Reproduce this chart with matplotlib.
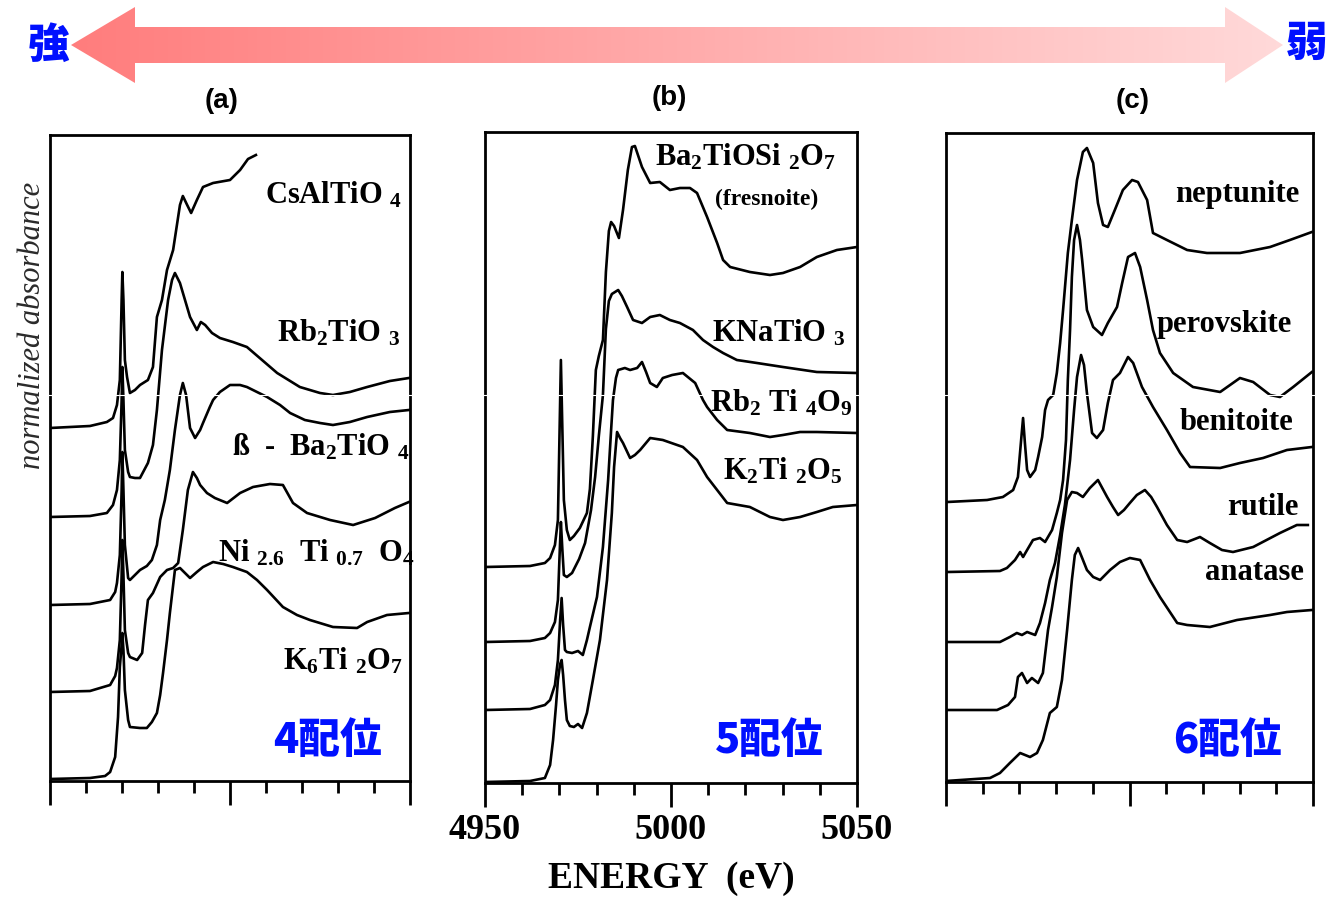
import numpy as np
import matplotlib.pyplot as plt
from matplotlib.patches import Polygon
from matplotlib.colors import LinearSegmentedColormap

plt.rcParams['font.family'] = 'Liberation Serif'
plt.rcParams['font.weight'] = 'bold'
plt.rcParams['mathtext.fontset'] = 'custom'
plt.rcParams['mathtext.rm'] = 'Liberation Serif:bold'
plt.rcParams['mathtext.it'] = 'Liberation Serif:bold'
plt.rcParams['mathtext.bf'] = 'Liberation Serif:bold'

# Ti K-edge XANES; energy in eV, normalized absorbance with vertical offsets

# (a) four-coordinated Ti
e_csaltio4 = [4950.0, 4961.1, 4965.8, 4967.5, 4968.6, 4969.4, 4969.9, 4970.1, 4970.4, 4970.8, 4971.4,
              4972.2, 4973.6, 4975.0, 4977.2, 4978.6, 4979.7, 4981.1, 4982.5, 4984.2, 4986.1, 4986.9,
              4988.1, 4989.2, 4990.8, 4992.5, 4995.3, 5000.0, 5002.8, 5005.0, 5007.2]
a_csaltio4 = [3.53, 3.55, 3.59, 3.63, 3.76, 4.01, 4.81, 5.09, 4.81, 4.21, 4.04,
              3.88, 3.91, 3.96, 4.01, 4.14, 4.64, 4.81, 5.11, 5.31, 5.76, 5.85,
              5.76, 5.68, 5.81, 5.94, 5.98, 6.01, 6.11, 6.22, 6.26]

e_rb2tio3 = [4950.0, 4961.1, 4965.8, 4967.5, 4968.6, 4969.4, 4969.9, 4970.1, 4970.4, 4970.8, 4971.7,
             4972.2, 4973.6, 4975.0, 4977.2, 4978.6, 4979.7, 4981.1, 4982.8, 4983.9, 4984.7, 4986.1,
             4987.5, 4988.9, 4990.8, 4991.9, 4993.1, 4995.0, 4997.2, 5000.8, 5004.7, 5008.9, 5013.1,
             5019.4, 5025.0, 5028.6, 5033.3, 5038.1, 5044.4, 5049.7]
a_rb2tio3 = [2.64, 2.65, 2.68, 2.76, 2.91, 3.21, 3.81, 4.14, 3.81, 3.31, 3.09,
             3.04, 3.03, 3.03, 3.18, 3.36, 3.71, 4.31, 4.81, 5.01, 5.08, 4.98,
             4.81, 4.64, 4.51, 4.59, 4.56, 4.48, 4.43, 4.39, 4.34, 4.21, 4.08,
             3.94, 3.88, 3.86, 3.89, 3.94, 4.00, 4.03]

e_ba2tio4 = [4950.0, 4961.1, 4966.7, 4968.1, 4968.6, 4969.4, 4969.9, 4970.1, 4970.4, 4970.8, 4971.7,
             4972.2, 4973.6, 4975.0, 4976.9, 4978.3, 4979.7, 4980.6, 4981.9, 4983.3, 4984.7, 4986.1,
             4986.9, 4987.8, 4988.9, 4990.3, 4991.7, 4992.5, 4994.4, 4995.3, 4997.2, 5000.0, 5002.8,
             5004.7, 5007.5, 5010.3, 5013.9, 5016.7, 5020.8, 5025.0, 5028.6, 5033.3, 5038.1, 5044.4, 5049.7]
a_ba2tio4 = [1.76, 1.77, 1.81, 1.89, 1.98, 2.26, 2.91, 3.29, 2.91, 2.36, 2.03,
             2.01, 2.06, 2.11, 2.15, 2.21, 2.36, 2.61, 2.81, 3.11, 3.51, 3.86,
             3.98, 3.86, 3.53, 3.43, 3.51, 3.58, 3.74, 3.81, 3.89, 3.96, 3.96,
             3.94, 3.89, 3.84, 3.76, 3.68, 3.61, 3.58, 3.56, 3.59, 3.64, 3.69, 3.71]

e_ni26ti07o4 = [4950.0, 4961.1, 4966.7, 4968.1, 4968.6, 4969.4, 4969.9, 4970.1, 4970.4, 4970.8, 4971.7,
                4972.2, 4974.2, 4975.6, 4976.4, 4977.2, 4978.6, 4980.6, 4982.5, 4984.2, 4985.6, 4986.9,
                4988.3, 4989.7, 4990.8, 4991.7, 4993.6, 4995.8, 4999.2, 5002.8, 5006.4, 5011.1, 5014.7,
                5017.5, 5021.4, 5027.8, 5034.2, 5040.3, 5045.8, 5049.7]
a_ni26ti07o4 = [0.89, 0.90, 0.96, 1.05, 1.13, 1.41, 2.06, 2.41, 2.06, 1.51, 1.28,
                1.24, 1.21, 1.28, 1.56, 1.81, 1.88, 2.04, 2.11, 2.13, 2.18, 2.51,
                2.91, 3.09, 3.03, 2.96, 2.88, 2.83, 2.78, 2.88, 2.94, 2.97, 2.96,
                2.78, 2.68, 2.61, 2.56, 2.63, 2.73, 2.79]

e_k6ti2o7 = [4950.0, 4961.1, 4965.3, 4966.7, 4968.1, 4968.9, 4969.4, 4969.9, 4970.1, 4970.4, 4970.8,
             4971.7, 4972.2, 4975.0, 4976.9, 4978.3, 4979.7, 4980.6, 4981.4, 4982.5, 4983.3, 4984.7,
             4986.1, 4987.5, 4988.9, 4990.8, 4992.5, 4995.3, 4998.1, 5000.8, 5004.7, 5007.5, 5010.3,
             5014.7, 5018.6, 5022.2, 5028.6, 5035.3, 5038.1, 5043.6, 5049.7]
a_k6ti2o7 = [0.02, 0.03, 0.05, 0.09, 0.24, 0.64, 1.14, 1.36, 1.48, 1.31, 0.91,
             0.61, 0.54, 0.53, 0.53, 0.59, 0.68, 0.86, 1.08, 1.41, 1.68, 2.11,
             2.13, 2.08, 2.03, 2.09, 2.14, 2.19, 2.17, 2.14, 2.09, 2.01, 1.91,
             1.74, 1.66, 1.61, 1.54, 1.53, 1.59, 1.66, 1.68]

# (b) five-coordinated Ti
e_fresnoite = [4950.0, 4962.1, 4966.1, 4967.5, 4968.8, 4969.6, 4970.0, 4970.4, 4970.8, 4971.2, 4972.0,
               4972.8, 4973.9, 4975.5, 4977.4, 4978.2, 4979.0, 4979.8, 4980.6, 4981.7, 4982.5, 4983.3,
               4983.9, 4984.7, 4986.0, 4987.1, 4988.4, 4989.5, 4990.3, 4992.2, 4994.4, 4997.0, 4999.7,
               5002.4, 5005.1, 5007.0, 5009.7, 5012.4, 5014.0, 5015.9, 5021.2, 5026.6, 5030.1, 5034.7,
               5039.2, 5044.6, 5050.0]
a_fresnoite = [2.16, 2.17, 2.20, 2.25, 2.38, 2.63, 3.43, 4.23, 3.53, 2.83, 2.53,
               2.43, 2.47, 2.55, 2.70, 2.94, 3.47, 4.13, 4.27, 4.43, 5.11, 5.52,
               5.61, 5.57, 5.45, 5.73, 6.13, 6.36, 6.37, 6.16, 6.00, 6.01, 5.93,
               5.95, 5.95, 5.90, 5.66, 5.40, 5.23, 5.16, 5.11, 5.08, 5.10, 5.16,
               5.26, 5.33, 5.36]

e_knatio3 = [4950.0, 4962.1, 4966.1, 4967.5, 4968.8, 4969.6, 4970.0, 4970.4, 4970.8, 4971.2, 4972.0,
             4973.4, 4975.3, 4976.9, 4978.5, 4979.6, 4980.6, 4981.7, 4982.5, 4983.3, 4984.1, 4985.8,
             4986.8, 4988.2, 4989.8, 4992.2, 4994.4, 4997.0, 4999.7, 5002.4, 5005.9, 5008.6, 5011.3,
             5014.0, 5017.7, 5023.1, 5030.1, 5039.2, 5050.0]
a_knatio3 = [1.41, 1.42, 1.45, 1.50, 1.61, 1.83, 2.23, 2.61, 2.33, 2.08, 2.06,
             2.10, 2.24, 2.40, 2.73, 3.06, 3.47, 3.88, 4.54, 4.82, 4.89, 4.93,
             4.87, 4.76, 4.63, 4.60, 4.66, 4.68, 4.63, 4.60, 4.53, 4.43, 4.36,
             4.30, 4.23, 4.20, 4.16, 4.11, 4.10]

e_rb2ti4o9 = [4950.0, 4962.1, 4966.1, 4967.5, 4968.8, 4969.6, 4970.2, 4970.6, 4971.0, 4971.5, 4972.0,
              4973.4, 4975.0, 4976.3, 4977.4, 4978.2, 4980.1, 4981.7, 4983.1, 4983.9, 4984.4, 4985.2,
              4985.8, 4987.6, 4989.0, 4990.9, 4992.2, 4993.3, 4994.4, 4996.2, 4997.8, 5000.3, 5003.2,
              5006.5, 5008.6, 5009.7, 5012.4, 5015.1, 5021.2, 5026.6, 5030.1, 5034.7, 5039.2, 5050.0]
a_rb2ti4o9 = [0.73, 0.74, 0.78, 0.83, 0.98, 1.23, 1.63, 1.85, 1.58, 1.33, 1.31,
              1.30, 1.32, 1.28, 1.43, 1.56, 1.86, 2.36, 3.03, 3.53, 3.83, 4.05,
              4.13, 4.15, 4.13, 4.15, 4.21, 4.11, 4.00, 3.96, 4.05, 4.08, 4.10,
              4.00, 3.83, 3.76, 3.63, 3.53, 3.50, 3.46, 3.48, 3.51, 3.51, 3.50]

e_k2ti2o5 = [4950.0, 4962.1, 4966.1, 4967.5, 4968.3, 4969.1, 4969.6, 4970.2, 4970.6, 4971.0, 4971.5,
             4972.0, 4972.8, 4973.9, 4975.0, 4976.1, 4977.4, 4979.0, 4980.9, 4982.8, 4984.1, 4984.7,
             4985.5, 4986.3, 4987.1, 4989.0, 4990.3, 4991.7, 4994.4, 4997.8, 5003.2, 5007.0, 5009.7,
             5012.4, 5015.1, 5021.2, 5026.6, 5030.1, 5034.7, 5039.2, 5043.5, 5050.0]
a_k2ti2o5 = [0.01, 0.02, 0.05, 0.18, 0.43, 0.78, 1.03, 1.19, 1.23, 1.08, 0.83,
             0.63, 0.57, 0.56, 0.59, 0.55, 0.70, 1.03, 1.43, 2.03, 2.70, 3.16,
             3.51, 3.45, 3.40, 3.25, 3.28, 3.33, 3.45, 3.43, 3.36, 3.23, 3.06,
             2.93, 2.80, 2.76, 2.66, 2.63, 2.66, 2.71, 2.76, 2.78]

# (c) six-coordinated Ti
e_neptunite = [4950.3, 4961.2, 4965.5, 4968.3, 4969.6, 4970.4, 4971.0, 4971.5, 4972.1, 4972.9, 4974.3,
               4975.1, 4976.2, 4977.0, 4977.8, 4979.2, 4980.2, 4981.1, 4981.9, 4983.2, 4984.3, 4985.7,
               4987.3, 4988.4, 4990.1, 4991.4, 4992.8, 4994.1, 4996.0, 4998.2, 5000.7, 5002.3, 5004.8,
               5006.4, 5010.2, 5015.7, 5021.1, 5030.1, 5038.3, 5043.7, 5049.7]
a_neptunite = [2.80, 2.82, 2.85, 2.92, 3.05, 3.39, 3.64, 3.39, 3.12, 3.05, 3.12,
               3.25, 3.45, 3.72, 3.82, 3.87, 4.09, 4.39, 4.72, 5.29, 5.62, 6.02,
               6.30, 6.34, 6.19, 5.79, 5.57, 5.55, 5.72, 5.92, 6.02, 6.00, 5.82,
               5.49, 5.42, 5.32, 5.29, 5.29, 5.35, 5.42, 5.50]

e_perovskite = [4950.3, 4964.7, 4966.6, 4968.8, 4970.2, 4971.0, 4972.1, 4973.7, 4975.6, 4977.0, 4978.9,
                4980.2, 4981.1, 4981.9, 4982.7, 4983.2, 4983.8, 4984.3, 4984.9, 4985.7, 4986.5, 4987.1,
                4988.4, 4990.1, 4992.5, 4994.1, 4996.6, 4998.0, 4999.6, 5001.5, 5002.9, 5004.8, 5006.4,
                5008.3, 5011.9, 5017.3, 5024.7, 5030.1, 5033.7, 5038.3, 5041.0, 5044.6, 5049.7]
a_perovskite = [2.10, 2.11, 2.14, 2.22, 2.30, 2.25, 2.32, 2.42, 2.44, 2.40, 2.52,
                2.69, 2.82, 3.02, 3.42, 4.02, 4.52, 5.05, 5.42, 5.57, 5.42, 5.22,
                4.72, 4.55, 4.47, 4.59, 4.75, 4.99, 5.25, 5.29, 5.15, 4.82, 4.52,
                4.29, 4.09, 3.95, 3.90, 4.04, 4.00, 3.87, 3.85, 3.95, 4.10]

e_benitoite = [4950.3, 4964.7, 4967.4, 4969.3, 4970.7, 4972.1, 4974.3, 4975.6, 4977.0, 4978.3, 4979.7,
               4981.1, 4982.4, 4983.8, 4984.9, 4985.7, 4986.8, 4987.6, 4988.4, 4989.8, 4991.1, 4992.8,
               4994.1, 4995.5, 4997.4, 4999.6, 5001.0, 5003.4, 5006.4, 5010.2, 5013.8, 5016.5, 5024.7,
               5030.1, 5036.4, 5042.9, 5049.7]
a_benitoite = [1.40, 1.40, 1.45, 1.49, 1.47, 1.50, 1.47, 1.59, 1.79, 2.02, 2.19,
               2.47, 2.77, 3.22, 3.72, 4.05, 4.27, 4.17, 3.89, 3.49, 3.44, 3.52,
               3.79, 4.02, 4.09, 4.25, 4.19, 3.95, 3.75, 3.52, 3.29, 3.15, 3.14,
               3.19, 3.24, 3.32, 3.35]

e_rutile = [4950.3, 4963.9, 4966.9, 4968.8, 4969.6, 4970.7, 4972.1, 4973.4, 4975.1, 4976.4, 4977.8,
            4978.9, 4980.2, 4981.6, 4983.0, 4984.3, 4985.7, 4987.3, 4989.2, 4991.4, 4993.9, 4995.5,
            4996.9, 4998.5, 5000.1, 5002.0, 5004.2, 5005.9, 5007.5, 5010.2, 5013.0, 5015.7, 5019.2,
            5021.9, 5025.2, 5028.2, 5033.7, 5041.0, 5045.6, 5048.6]
a_rutile = [0.72, 0.72, 0.77, 0.85, 1.05, 1.09, 0.99, 1.04, 0.99, 1.09, 1.52,
            1.75, 2.05, 2.49, 2.82, 2.90, 2.89, 2.85, 2.94, 3.02, 2.85, 2.75,
            2.67, 2.72, 2.79, 2.87, 2.92, 2.85, 2.75, 2.57, 2.42, 2.40, 2.45,
            2.39, 2.32, 2.30, 2.35, 2.49, 2.57, 2.57]

e_anatase = [4950.0, 4962.0, 4964.7, 4967.4, 4970.2, 4972.9, 4974.8, 4976.4, 4978.3, 4980.2, 4981.6,
             4983.0, 4984.3, 4985.1, 4986.0, 4987.1, 4988.4, 4990.1, 4992.0, 4994.7, 4997.4, 5000.1,
             5002.9, 5005.6, 5008.3, 5013.0, 5015.7, 5021.9, 5029.3, 5038.3, 5042.9, 5049.7]
a_anatase = [0.01, 0.04, 0.09, 0.19, 0.29, 0.25, 0.29, 0.42, 0.69, 0.75, 1.02,
             1.52, 2.02, 2.27, 2.34, 2.24, 2.12, 2.05, 2.02, 2.12, 2.20, 2.24,
             2.22, 2.02, 1.85, 1.59, 1.57, 1.55, 1.62, 1.67, 1.70, 1.72]

W, H = 1332, 897
fig = plt.figure(figsize=(W / 100, H / 100), dpi=100)


def panel(left, right, top, bottom, spectra, labels=False):
    ax = fig.add_axes([left / W, 1 - bottom / H, (right - left) / W, (bottom - top) / H])
    for e, a in spectra:
        ax.plot(e, a, color='black', lw=1.9, solid_joinstyle='round')
    ax.set_xlim(4950, 5050)
    ax.set_ylim(0, (bottom - top) / 100)
    ax.set_yticks([])
    ax.set_xticks([4950, 5000, 5050])
    ax.set_xticks(np.arange(4950, 5051, 10), minor=True)
    ax.tick_params(axis='x', which='major', direction='out', length=17, width=2.0,
                   labelsize=26, pad=5)
    ax.tick_params(axis='x', which='minor', direction='out', length=8.5, width=2.0)
    if not labels:
        ax.set_xticklabels([])
    for sp in ax.spines.values():
        sp.set_linewidth(2.0)
    return ax


panel(50, 410, 135, 781, [(e_csaltio4, a_csaltio4), (e_rb2tio3, a_rb2tio3), (e_ba2tio4, a_ba2tio4),
                          (e_ni26ti07o4, a_ni26ti07o4), (e_k6ti2o7, a_k6ti2o7)])
panel(485, 857, 132, 783, [(e_fresnoite, a_fresnoite), (e_knatio3, a_knatio3),
                           (e_rb2ti4o9, a_rb2ti4o9), (e_k2ti2o5, a_k2ti2o5)], labels=True)
panel(946, 1313, 133, 782, [(e_neptunite, a_neptunite), (e_perovskite, a_perovskite),
                            (e_benitoite, a_benitoite), (e_rutile, a_rutile), (e_anatase, a_anatase)])

# overlay in pixel units for the arrow and annotations
ov = fig.add_axes([0, 0, 1, 1], zorder=10)
ov.patch.set_alpha(0)
ov.axis('off')

grad = np.linspace(0, 1, 256).reshape(1, -1)
cmap = LinearSegmentedColormap.from_list('pink', ['#ff7d7d', '#ffd9d9'])
im = ov.imshow(grad, cmap=cmap, extent=(71, 1283, 83, 7), aspect='auto', interpolation='bilinear')
arrow = Polygon([(71, 45), (135, 7), (135, 27), (1225, 27), (1225, 7), (1283, 45),
                 (1225, 83), (1225, 63), (135, 63), (135, 83)],
                closed=True, facecolor='none', edgecolor='none')
ov.add_patch(arrow)
im.set_clip_path(arrow)
ov.set_xlim(0, W)
ov.set_ylim(H, 0)

cjk = ['Noto Sans CJK JP', 'DejaVu Sans']
ov.text(48, 46, '強', color='#0010ff', fontsize=30, fontweight='black', family=cjk,
        ha='center', va='center')
ov.text(1307, 44, '弱', color='#0010ff', fontsize=30, fontweight='black', family=cjk,
        ha='center', va='center')

for x, y, s in [(222, 101, '(a)'), (669, 98, '(b)'), (1133, 101, '(c)')]:
    ov.text(x, y, s, fontsize=20, fontweight='bold', family='Liberation Sans',
            ha='center', va='center')

ov.text(33, 325, 'normalized absorbance', fontsize=22, style='italic', fontweight='normal',
        color='#2a2a2a', rotation=90, ha='center', va='center')

compounds = [
    (265, 203, r'CsAlTiO $_4$'),
    (277, 342, r'Rb$_2$TiO $_3$'),
    (232, 455, r'ß  -  Ba$_2$TiO $_4$'),
    (218, 562, r'Ni $_{2.6}$  Ti $_{0.7}$  O$_4$'),
    (283, 669, r'K$_6$Ti $_2$O$_7$'),
    (655, 165, r'Ba$_2$TiOSi $_2$O$_7$'),
    (712, 342, r'KNaTiO $_3$'),
    (710, 412, r'Rb$_2$ Ti $_4$O$_9$'),
    (723, 480, r'K$_2$Ti $_2$O$_5$'),
    (1175, 202, 'neptunite'),
    (1157, 332, 'perovskite'),
    (1180, 430, 'benitoite'),
    (1227, 515, 'rutile'),
    (1205, 580, 'anatase'),
]
for x, y, s in compounds:
    ov.text(x, y, s, fontsize=22, fontweight='bold', ha='left', va='baseline')
ov.text(715, 205, '(fresnoite)', fontsize=17, fontweight='bold', ha='left', va='baseline')

for x, s in [(273, '4配位'), (715, '5配位'), (1173, '6配位')]:
    ov.text(x, 741, s, color='#0010ff', fontsize=30, fontweight='black', family=cjk,
            ha='left', va='center')

ov.text(671, 878, 'ENERGY  (eV)', fontsize=27, fontweight='bold', ha='center', va='center')

# scan seam across the figure
ov.plot([0, W], [395, 395], color='white', lw=0.8)

fig.savefig('out.png', dpi=100)
